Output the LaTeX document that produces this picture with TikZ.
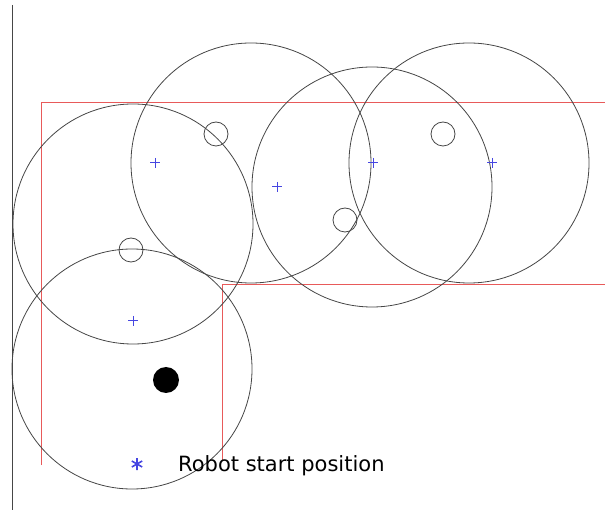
\documentclass[tikz,border=0pt]{standalone}
\usepackage{fontspec}
\setmainfont{DejaVu Sans}
\usepackage{tikz}
\usetikzlibrary{positioning}
\definecolor{wallred}{RGB}{232,90,90}
\definecolor{rangegray}{RGB}{70,70,70}
\definecolor{markblue}{RGB}{70,70,225}

\begin{document}
\begin{tikzpicture}[
    x=1pt, y=-1pt,
    wall/.style={color=wallred, line width=1pt},
    sensor/.style={color=rangegray, line width=0.8pt},
    target/.style={color=markblue, line width=1pt},
    tagtext/.style={font=\fontsize{21}{24}\selectfont, inner sep=0pt, anchor=west}
]
\useasboundingbox (0,0) rectangle (605,510);

% axis line
\draw[color=rangegray, line width=0.9pt] (12,5) -- (12,510);

% corridor walls
\draw[wall] (41,465) -- (41,103) -- (605,103);
\draw[wall] (222,460) -- (222,285) -- (605,285);

% sensor ranges
\draw[sensor] (133,224) circle (120);
\draw[sensor] (251,163) circle (120);
\draw[sensor] (372,187) circle (120);
\draw[sensor] (469,163) circle (120);
\draw[sensor] (132,369) circle (120);

% obstacles
\draw[sensor] (216,134) circle (12);
\draw[sensor] (131,250) circle (12);
\draw[sensor] (443,134) circle (12);
\draw[sensor] (345,220) circle (12);
\fill[black] (166,380) circle (13);

% waypoints
\draw[target] (150,163) -- (160,163) (155,158) -- (155,168);
\draw[target] (272,187) -- (282,187) (277,182) -- (277,192);
\draw[target] (368,163) -- (378,163) (373,158) -- (373,168);
\draw[target] (487,163) -- (497,163) (492,158) -- (492,168);
\draw[target] (128,321) -- (138,321) (133,316) -- (133,326);

% start marker
\coordinate (start) at (137,464);
\draw[color=markblue, line width=1.6pt]
    ([yshift=-6]start) -- ([yshift=6]start)
    ([shift={(-5.2,-3)}]start) -- ([shift={(5.2,3)}]start)
    ([shift={(-5.2,3)}]start) -- ([shift={(5.2,-3)}]start);
\node[tagtext] (startlabel) at (178,466) {Robot start position};
\end{tikzpicture}
\end{document}
